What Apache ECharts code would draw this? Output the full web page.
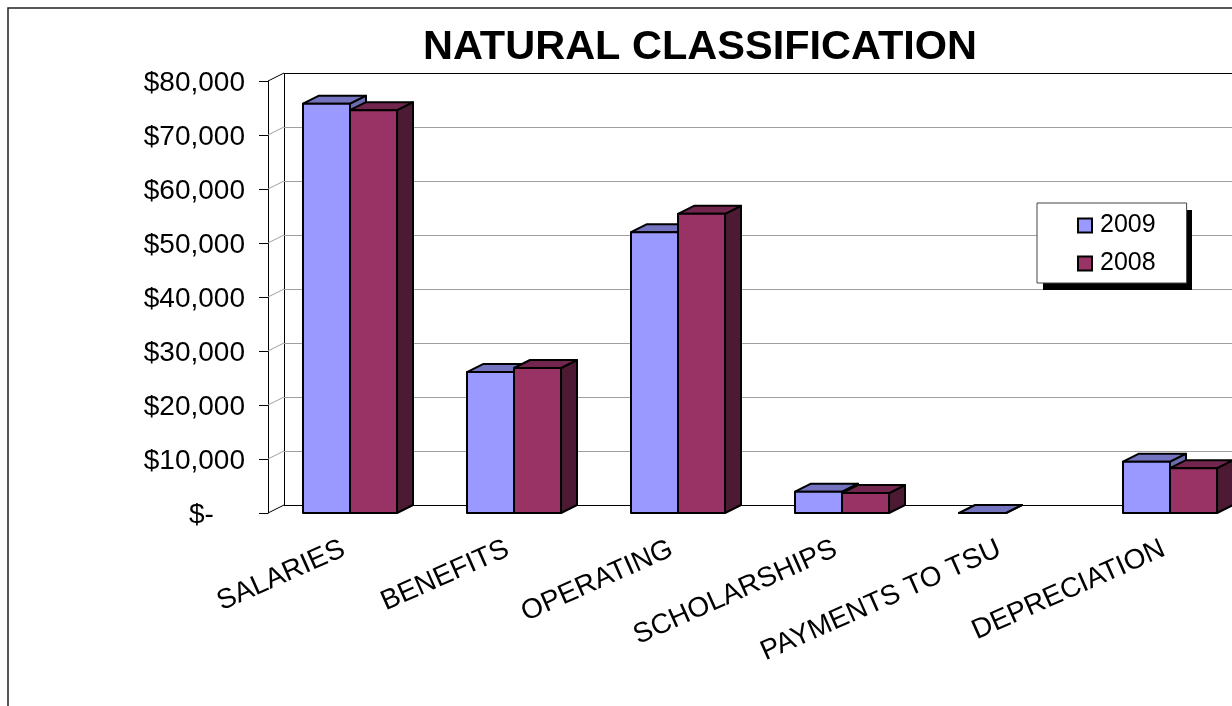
<!DOCTYPE html>
<html>
<head>
<meta charset="utf-8">
<style>html,body{margin:0;padding:0;background:#fff;overflow:hidden;width:1232px;height:706px}#chart{width:1300px;height:706px}</style>
<script src="https://cdn.jsdelivr.net/npm/echarts@6/dist/echarts.min.js"></script>
</head>
<body>
<div id="chart"></div>
<script>
const categories = ['SALARIES', 'BENEFITS', 'OPERATING', 'SCHOLARSHIPS', 'PAYMENTS TO TSU', 'DEPRECIATION'];
const values2009 = [75800, 26100, 52000, 3950, 0, 9500];
const values2008 = [74600, 26850, 55400, 3700, null, 8300];
const yTicks = [0, 10000, 20000, 30000, 40000, 50000, 60000, 70000, 80000];
const yTickLabels = ['$-\u00a0\u00a0\u00a0\u00a0', '$10,000', '$20,000', '$30,000', '$40,000', '$50,000', '$60,000', '$70,000', '$80,000'];

const FONT = '"Liberation Sans", Arial, sans-serif';
const DEPTH_X = 16, DEPTH_Y = 8;
const BAR_WIDTH_RATIO = 0.2866;

const crisp = v => Math.round(v) + 0.5;

// Back wall, side wall and floor of the pseudo-3D plot box
function renderWall(params, api) {
  const v = api.value(0);
  const cs = params.coordSys;
  const y = api.coord([0, v])[1];
  const frontX = cs.x, backX = cs.x + DEPTH_X, right = cs.x + cs.width + DEPTH_X;
  const edge = v === 0 || v === 80000;
  const color = edge ? '#000' : '#a0a0a0';
  const children = [
    { type: 'line', shape: { x1: backX, y1: crisp(y - DEPTH_Y), x2: right, y2: crisp(y - DEPTH_Y) },
      style: { stroke: color, lineWidth: 1 } },
    { type: 'line', shape: { x1: frontX, y1: y, x2: backX, y2: y - DEPTH_Y },
      style: { stroke: color, lineWidth: 1 } }
  ];
  if (v === 0) {
    children.push({ type: 'line',
      shape: { x1: crisp(backX), y1: cs.y - DEPTH_Y, x2: crisp(backX), y2: cs.y + cs.height - DEPTH_Y },
      style: { stroke: '#000', lineWidth: 1 } });
  }
  return { type: 'group', children };
}

// One extruded bar: side and top faces behind the front face
function barRenderer(seriesIndex, front, top, side) {
  return function (params, api) {
    const value = api.value(1);
    if (value === null || isNaN(value)) return;
    const cat = api.value(0);
    const w = api.size([1, 0])[0] * BAR_WIDTH_RATIO;
    const center = api.coord([cat, 0])[0];
    const x0 = Math.round(center + (seriesIndex === 0 ? -w : 0));
    const x1 = Math.round(center + (seriesIndex === 0 ? 0 : w));
    const yBase = api.coord([cat, 0])[1];
    const yTop = api.coord([cat, value])[1];
    const line = { stroke: '#000', lineWidth: 2, lineJoin: 'round' };
    const face = (pts, fill) => ({ type: 'polygon', shape: { points: pts }, style: Object.assign({ fill }, line) });
    return {
      type: 'group',
      children: [
        face([[x1, yBase], [x1 + DEPTH_X, yBase - DEPTH_Y], [x1 + DEPTH_X, yTop - DEPTH_Y], [x1, yTop]], side),
        face([[x0, yTop], [x0 + DEPTH_X, yTop - DEPTH_Y], [x1 + DEPTH_X, yTop - DEPTH_Y], [x1, yTop]], top),
        face([[x0, yBase], [x1, yBase], [x1, yTop], [x0, yTop]], front)
      ]
    };
  };
}

const chart = echarts.init(document.getElementById('chart'), null, { renderer: 'canvas' });
chart.setOption({
  animation: false,
  backgroundColor: '#fff',
  textStyle: { fontFamily: FONT },
  title: {
    text: 'NATURAL CLASSIFICATION',
    left: 695, top: 22, textAlign: 'center',
    textStyle: { fontFamily: FONT, fontSize: 41.5, fontWeight: 'bold', color: '#000' }
  },
  grid: { left: 268, top: 81, width: 984, height: 432 },
  xAxis: {
    type: 'category',
    data: categories,
    axisLine: { show: false },
    axisTick: { show: false },
    axisLabel: { interval: 0, rotate: 24, margin: 32, padding: [0, 7, 0, 0], color: '#000', fontFamily: FONT, fontSize: 28, hideOverlap: false }
  },
  yAxis: {
    type: 'value', min: 0, max: 80000, interval: 10000,
    splitLine: { show: false },
    axisLine: { show: true, lineStyle: { color: '#000', width: 1 } },
    axisTick: { show: true, length: 9, lineStyle: { color: '#000', width: 1 } },
    axisLabel: {
      margin: 23, color: '#000', fontFamily: FONT, fontSize: 28,
      formatter: v => '{t|' + yTickLabels[yTicks.indexOf(v)] + '}',
      rich: { t: { fontFamily: FONT, fontSize: 28, color: '#000', padding: [4, 0, 0, 0] } }
    }
  },
  legend: {
    orient: 'vertical',
    left: 1037, top: 203,
    padding: [10, 31, 7, 40],
    itemWidth: 14, itemHeight: 14, itemGap: 13,
    backgroundColor: '#fff',
    borderColor: '#444', borderWidth: 1,
    textStyle: { fontFamily: FONT, fontSize: 25, color: '#000', padding: [0, 0, 0, 3] },
    data: [
      { name: '2009', icon: 'rect', itemStyle: { color: '#9999ff', borderColor: '#000', borderWidth: 2 } },
      { name: '2008', icon: 'rect', itemStyle: { color: '#993366', borderColor: '#000', borderWidth: 2 } }
    ]
  },
  graphic: [
    {
      type: 'rect', silent: true, z: 100,
      shape: { x: 8, y: 8, width: 2000, height: 2000 },
      style: { fill: 'transparent', stroke: '#222', lineWidth: 1.5 }
    },
    {
      // Hard drop shadow behind the legend box
      type: 'rect', silent: true, z: 3,
      shape: { x: 1043, y: 210, width: 149, height: 80 },
      style: { fill: '#000' }
    }
  ],
  series: [
    {
      name: 'walls', type: 'custom', z: 1, silent: true, clip: false,
      data: yTicks.map(v => [v]),
      encode: { y: 0 },
      renderItem: renderWall
    },
    {
      name: '2009', type: 'custom', z: 2, clip: false,
      itemStyle: { color: '#9999ff' },
      data: values2009.map((v, i) => [i, v]),
      encode: { x: 0, y: 1 },
      renderItem: barRenderer(0, '#9999ff', '#7373bf', '#6b6bb0')
    },
    {
      name: '2008', type: 'custom', z: 3, clip: false,
      itemStyle: { color: '#993366' },
      data: values2008.map((v, i) => [i, v]),
      encode: { x: 0, y: 1 },
      renderItem: barRenderer(1, '#993366', '#73264d', '#4d1a33')
    }
  ]
});
</script>
</body>
</html>
